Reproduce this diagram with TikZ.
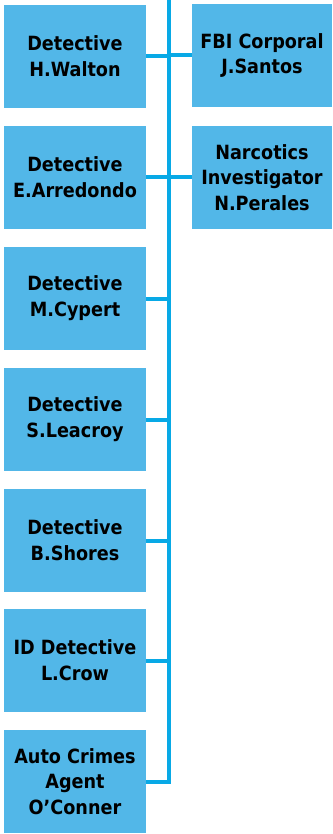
\documentclass[tikz,border=0pt]{standalone}
\usepackage{fontspec}
\setmainfont{DejaVu Sans Condensed}
\definecolor{boxfill}{HTML}{52B7E8}
\definecolor{linecol}{HTML}{08A9E6}
\begin{document}
\begin{tikzpicture}[x=1pt,y=1pt,
  card/.style={fill=boxfill, draw=none, align=center, inner sep=0pt,
    font=\fontsize{19.6}{25.8}\selectfont\bfseries, text=black},
  lcard/.style={card, minimum width=142pt, minimum height=103pt},
  rcard/.style={card, minimum width=140pt, minimum height=103pt},
  wire/.style={draw=linecol, line width=4pt}]
\useasboundingbox (0,0) rectangle (332,-834);
\node[lcard] (L1) at (75,-56.5) {Detective\\H.Walton};
\node[lcard] (L2) at (75,-177.5) {Detective\\E.Arredondo};
\node[lcard] (L3) at (75,-298.5) {Detective\\M.Cypert};
\node[lcard] (L4) at (75,-419.5) {Detective\\S.Leacroy};
\node[lcard] (L5) at (75,-540.5) {Detective\\B.Shores};
\node[lcard] (L6) at (75,-660.5) {ID Detective\\L.Crow};
\node[lcard] (L7) at (75,-781.5) {Auto Crimes\\Agent\\O’Conner};
\node[rcard] (R1) at (262,-55.5) {FBI Corporal\\J.Santos};
\node[rcard] (R2) at (262,-177.5) {Narcotics\\Investigator\\N.Perales};
\coordinate (top) at (168.7,2);
\draw[wire] (top) -- (top |- L7.east) -- (L7.east);
\foreach \n in {L1,L2,L3,L4,L5,L6} \draw[wire] (\n.east) -- (\n.east -| top);
\foreach \n in {R1,R2} \draw[wire] (\n.west) -- (\n.west -| top);
\end{tikzpicture}
\end{document}
